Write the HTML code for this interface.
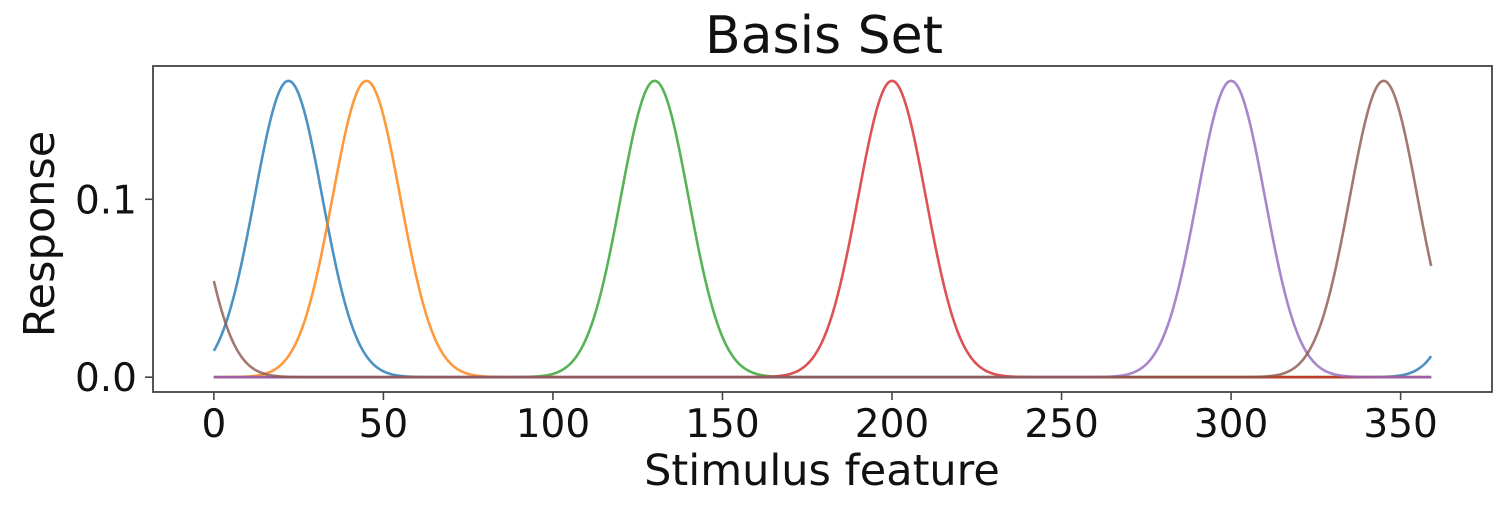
<!DOCTYPE html>
<html><head><meta charset="utf-8"><style>
body{margin:0;background:#fff;}
svg text{font-family:"DejaVu Sans",sans-serif;fill:#111;}
</style></head><body>
<svg width="1508" height="504" id="chart">
<rect x="0" y="0" width="1508" height="504" fill="#fff"/>
<text x="824" y="53" font-size="52" text-anchor="middle">Basis Set</text>
<text x="822" y="485" font-size="43" text-anchor="middle">Stimulus feature</text>
<text transform="translate(54,234) rotate(-90)" font-size="43" text-anchor="middle">Response</text>
<g id="plot"></g>
</svg>
<script>
const xTicks=[0,50,100,150,200,250,300,350];
const yTicks=[0.0,0.1];
const yTickLabels=["0.0","0.1"];
const centers=[22,45,130,200,300,345];
const amplitudes=[0.1666,0.1666,0.1666,0.1666,0.1666,0.1666];
const sigmas=[10,10,10,10,10,10];
const seriesNames=["basis-1","basis-2","basis-3","basis-4","basis-5","basis-6"];
const colors=["#1f77b4","#ff7f0e","#2ca02c","#d62728","#9467bd","#8c564b"];
const xMin=-17.95,xMax=376.95,yMin=-0.00833,yMax=0.17493;
const L=153,R=1492,T=66,B=392;
const sx=v=>L+(v-xMin)/(xMax-xMin)*(R-L);
const sy=v=>B-(v-yMin)/(yMax-yMin)*(B-T);
const NS="http://www.w3.org/2000/svg";
const g=document.getElementById('plot');
function mk(t,a){const e=document.createElementNS(NS,t);for(const k in a)e.setAttribute(k,a[k]);return e;}
centers.forEach((c,i)=>{
  let d="";
  for(let x=0;x<=359;x+=0.5){
    let dd=Math.abs(x-c);dd=Math.min(dd,360-dd);
    const v=amplitudes[i]*Math.exp(-dd*dd/(2*sigmas[i]*sigmas[i]));
    d+=(x===0?"M":"L")+sx(x).toFixed(2)+","+sy(v).toFixed(2);
  }
  const p=mk('path',{d:d,fill:'none',stroke:colors[i],'stroke-width':2.6,'stroke-opacity':0.8});
  
  
  g.appendChild(p);
});
const fr=mk('rect',{x:L,y:T,width:R-L,height:B-T,fill:'none',stroke:'#444','stroke-width':1.8});


g.appendChild(fr);
xTicks.forEach(t=>{
  const l=mk('line',{x1:sx(t),x2:sx(t),y1:B,y2:B+8,stroke:'#444','stroke-width':1.6});
  
  
  g.appendChild(l);
  const tx=mk('text',{x:sx(t),y:B+45,'font-size':39,'text-anchor':'middle'});
  tx.textContent=String(t);
  
  
  g.appendChild(tx);
});
yTicks.forEach((t,i)=>{
  const l=mk('line',{x1:L-8,x2:L,y1:sy(t),y2:sy(t),stroke:'#444','stroke-width':1.6});
  
  
  g.appendChild(l);
  const tx=mk('text',{x:L-16,y:sy(t)+14,'font-size':39,'text-anchor':'end'});
  tx.textContent=yTickLabels[i];
  
  
  g.appendChild(tx);
});
</script>
</body></html>
